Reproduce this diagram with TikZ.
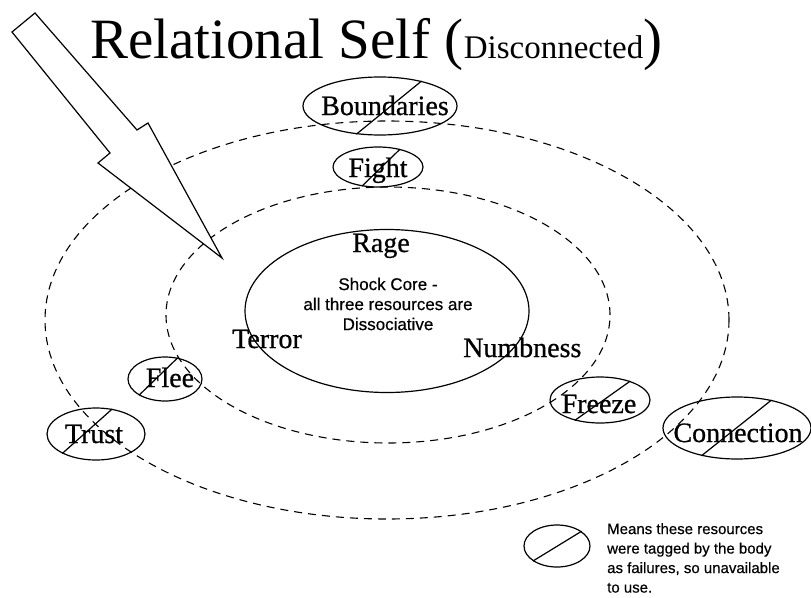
\documentclass[tikz,border=0pt]{standalone}
\usepackage{fontspec}
\setmainfont{Liberation Serif}
\setsansfont{Liberation Sans}
\newfontfamily\heavyserif[FakeBold=0.7]{Liberation Serif}
\newfontfamily\heavysans[FakeBold=0.5]{Liberation Sans}
\usetikzlibrary{shapes.geometric}
\begin{document}
\begin{tikzpicture}[x=1pt,y=-1pt,
  ring/.style={draw, ellipse, dash pattern=on 8pt off 6pt, line width=1.1pt, inner sep=0pt},
  corering/.style={draw, ellipse, line width=1.2pt, inner sep=0pt},
  xmark/.style={draw, ellipse, line width=1.2pt, inner sep=0pt},
  slash/.style={line width=1.2pt},
  word/.style={font=\heavyserif\fontsize{28}{30}\selectfont, inner sep=0pt},
  coretxt/.style={font=\heavysans\fontsize{17}{20}\selectfont, align=center, inner sep=0pt},
  legtxt/.style={font=\heavysans\fontsize{15}{19.5}\selectfont, align=left, inner sep=0pt},
  bigarrow/.style={draw, fill=white, line width=1.2pt, line join=miter}]
\useasboundingbox (0,0) rectangle (811,597);

% title
\node[anchor=base west, inner sep=0pt] (title) at (90,58)
  {\fontsize{57}{60}\selectfont Relational Self (\fontsize{33}{36}\selectfont Disconnected\fontsize{57}{60}\selectfont)};

% rings
\node[ring, minimum width=684pt, minimum height=398pt] (outer) at (387,320) {};
\node[ring, minimum width=444pt, minimum height=256pt] (inner) at (388,315) {};
\node[corering, minimum width=284pt, minimum height=163pt] (core) at (387,311) {};

% core texts
\node[word, anchor=base] (rage) at (381,252) {Rage};
\node[word, anchor=base west] (terror) at (232,348) {Terror};
\node[word, anchor=base west] (numb) at (463,357) {Numbness};
\node[coretxt] (coretext) at (388,304) {Shock Core -\\all three resources are\\Dissociative};

% crossed resources
\node[xmark, minimum width=154pt, minimum height=58pt] (bnd) at (380,106) {};
\node[word, anchor=base] (bndT) at (385,115) {Boundaries};
\draw[slash] (bnd.230) -- (bnd.31);

\node[xmark, minimum width=90pt, minimum height=40pt] (fight) at (378,167) {};
\node[word, anchor=base] (fightT) at (378,177) {Fight};
\draw[slash] (fight.230) -- (fight.39);

\node[xmark, minimum width=74pt, minimum height=44pt] (flee) at (165,379) {};
\node[word, anchor=base] (fleeT) at (170,387) {Flee};
\draw[slash] (flee.212) -- (flee.59);

\node[xmark, minimum width=98pt, minimum height=52pt] (trust) at (96,434) {};
\node[word, anchor=base] (trustT) at (94,443) {Trust};
\draw[slash] (trust.210) -- (trust.57);

\node[xmark, minimum width=100pt, minimum height=46pt] (freeze) at (600,400) {};
\node[word, anchor=base] (freezeT) at (599,413) {Freeze};
\draw[slash] (freeze.219) -- (freeze.32);

\node[xmark, minimum width=148pt, minimum height=62pt] (conn) at (737,428) {};
\node[word, anchor=base] (connT) at (738,442) {Connection};
\draw[slash] (conn.218) -- (conn.39);

% legend
\node[xmark, minimum width=66pt, minimum height=42pt] (leg) at (557,546) {};
\draw[slash] (leg.212) -- (leg.31);
\node[legtxt, anchor=north west] (legT) at (607,523)
  {Means these resources\\were tagged by the body\\as failures, so unavailable\\to use.};

% big arrow
\draw[bigarrow] (12,32) -- (35,13) -- (137,130) -- (148,123) -- (222,258)
  -- (98,163) -- (110,153) -- cycle;
\end{tikzpicture}
\end{document}
